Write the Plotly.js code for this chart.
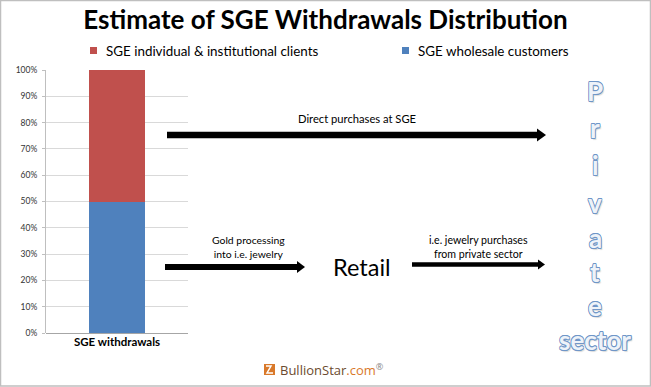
<!DOCTYPE html>
<html><head><meta charset="utf-8">
<script src="https://cdn.plot.ly/plotly-3.0.1.min.js"></script>
<style>html,body{margin:0;padding:0;background:#fff}#c{width:651px;height:387px}</style>
</head><body><div id="c"></div>
<script>
// ---- data ----
const categories = ['SGE withdrawals'];
const wholesaleValues = [0.5];
const individualValues = [0.5];
const seriesNames = ['SGE wholesale customers', 'SGE individual & institutional clients'];
const yTickVals = [0,0.1,0.2,0.3,0.4,0.5,0.6,0.7,0.8,0.9,1.0];
const yTickText = ['0%','10%','20%','30%','40%','50%','60%','70%','80%','90%','100%'];
const flowLabels = ['Direct purchases at SGE', 'Gold processing<br>into i.e. jewelry', 'Retail', 'i.e. jewelry purchases<br>from private sector'];
const privateLetters = ['P','r','i','v','a','t','e','sector'];
const titleText = 'Estimate of SGE Withdrawals Distribution';

// ---- layout helpers (pixel -> paper) ----
const FW = 651, FH = 387;
const L = 46, R = 188, T = 70, B = 333;
const PW = R - L, PH = B - T;
const px = x => (x - L) / PW;
const py = y => (B - y) / PH;

const RED = '#C0504D', BLUE = '#4F81BD';
const FONT = 'Lato, "Open Sans", sans-serif';

const traces = [
  {type:'bar', x:categories, y:wholesaleValues, name:seriesNames[0], marker:{color:BLUE}, width:0.4, hoverinfo:'none'},
  {type:'bar', x:categories, y:individualValues, name:seriesNames[1], marker:{color:RED}, width:0.4, hoverinfo:'none'}
];

function arrow(x0, x1, y, w, hl, hh) {
  return [
    {type:'line', xref:'paper', yref:'paper', x0:px(x0), x1:px(x1 - hl + 1), y0:py(y), y1:py(y), line:{color:'#000', width:w}},
    {type:'path', xref:'paper', yref:'paper', fillcolor:'#000', line:{width:0},
     path:`M${px(x1-hl)},${py(y-hh)} L${px(x1)},${py(y)} L${px(x1-hl)},${py(y+hh)} Z`}
  ];
}

// custom legend (red first, then blue)
const legendItems = [
  {name:seriesNames[1], color:RED, x:93.5},
  {name:seriesNames[0], color:BLUE, x:405.5}
];

const shapes = [
  {type:'rect', xref:'paper', yref:'paper', x0:px(0.5), x1:px(FW-0.5), y0:py(0.5), y1:py(FH-1), line:{color:'#bfbfbf', width:1.5}, layer:'below'},
  ...arrow(167, 546, 135, 6.5, 9, 6.5),
  ...arrow(165, 305, 267, 6, 8, 6),
  ...arrow(412, 545, 264.5, 4.5, 7, 5),
  {type:'rect', xref:'paper', yref:'paper', x0:px(264), x1:px(275), y0:py(364), y1:py(375), fillcolor:'#D9792A', line:{width:0}},
  {type:'path', xref:'paper', yref:'paper', line:{color:'#fff', width:1.5},
   path:`M${px(266)},${py(366)} L${px(271)},${py(366)} L${px(267)},${py(373)} L${px(273)},${py(373)}`}
];
legendItems.forEach(it => shapes.push({type:'rect', xref:'paper', yref:'paper', x0:px(it.x-3.5), x1:px(it.x+3.5), y0:py(47), y1:py(54), fillcolor:it.color, line:{width:0}}));

const ann = [];
const txt = (x, y, text, size, opts={}) => ann.push(Object.assign({xref:'paper', yref:'paper', x:px(x), y:py(y), text:text, showarrow:false, xanchor:'center', yanchor:'middle', font:{family:FONT, size:size, color:'#000'}}, opts));
legendItems.forEach(it => txt(it.x + 10, 51, it.name, 13.4, {xanchor:'left'}));
txt(356.5, 118, flowLabels[0], 11.2);
txt(248, 246.5, flowLabels[1], 10.4);
txt(361.5, 267, flowLabels[2], 23.5);
txt(478, 246.5, flowLabels[3], 10.6);
const letterY = [91, 128, 165, 203, 238, 272, 306, 340];
const OC = '#6F96C8';
privateLetters.forEach((s, i) => {
  ann.push({xref:'paper', yref:'paper', x:px(595), y:py(letterY[i]), text:s, showarrow:false, xanchor:'center', yanchor:'middle',
    font:{family:FONT, size:26, color:'#EEF3F9', weight:700,
      shadow:`0.8px 0 0 ${OC}, -0.8px 0 0 ${OC}, 0 0.8px 0 ${OC}, 0 -0.8px 0 ${OC}, 0.6px 0.6px 0 ${OC}, -0.6px -0.6px 0 ${OC}, 0.6px -0.6px 0 ${OC}, -0.6px 0.6px 0 ${OC}, 1.5px 1.5px 1px rgba(0,0,0,0.15)`}});
});
ann.push({xref:'paper', yref:'paper', x:px(278), y:py(369), xanchor:'left', yanchor:'middle', showarrow:false,
  text:"<span style='color:#6B4A2E'>BullionStar</span><span style='color:#D9792A'>.com</span><sup><span style='color:#888'>®</span></sup>",
  font:{family:'"Open Sans", sans-serif', size:13}});

const layout = {
  width:FW, height:FH,
  margin:{l:L, r:FW-R, t:T, b:FH-B, pad:0},
  paper_bgcolor:'#fff', plot_bgcolor:'#fff',
  barmode:'stack',
  title:{text:titleText, x:0.5, xref:'container', xanchor:'center', y:1-20/FH, yref:'container', yanchor:'middle',
    font:{family:FONT, size:26, color:'#000', weight:700}},
  showlegend:false,
  xaxis:{type:'category', range:[-0.5,0.5], showgrid:false, showline:false, zeroline:false, ticks:'',
    tickfont:{family:FONT, size:11.5, color:'#000', weight:700}, fixedrange:true},
  yaxis:{range:[0,1], tickvals:yTickVals, ticktext:yTickText, showgrid:true, gridcolor:'#d9d9d9', gridwidth:1,
    showline:true, linecolor:'#bfbfbf', zeroline:true, zerolinecolor:'#a6a6a6', ticks:'outside', ticklen:3, tickcolor:'#bfbfbf',
    tickfont:{family:FONT, size:8.5, color:'#333'}, ticklabelstandoff:3, fixedrange:true},
  shapes:shapes,
  annotations:ann
};
Plotly.newPlot('c', traces, layout, {displayModeBar:false, staticPlot:true});
</script>
</body></html>
